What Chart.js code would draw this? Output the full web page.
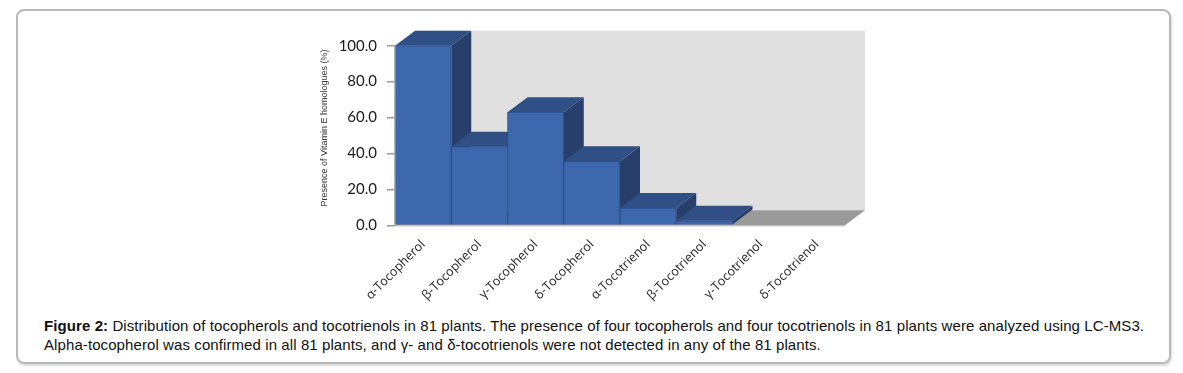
<!DOCTYPE html>
<html>
<head>
<meta charset="utf-8">
<script src="https://cdn.jsdelivr.net/npm/chart.js@4/dist/chart.umd.min.js"></script>
<style>
  html, body { margin: 0; padding: 0; background: #fff; }
  body { width: 1183px; height: 373px; position: relative; overflow: hidden; }
  #frame {
    position: absolute; left: 16px; top: 9px; width: 1151px; height: 351px;
    border: 2px solid #b8b8b8; border-radius: 8px;
    box-shadow: 1px 2px 2px rgba(0, 0, 0, 0.15);
  }
  #wrap { position: absolute; left: 0; top: 0; width: 1183px; height: 310px; }
  #caption {
    position: absolute; left: 44px; top: 316px; white-space: nowrap; letter-spacing: 0.09px;
    font-family: "Liberation Sans", Arial, sans-serif; font-size: 15px; line-height: 19px; color: #111;
  }
</style>
</head>
<body>
<div id="frame"></div>
<div id="wrap"><canvas id="chart-vitE" width="1183" height="310"></canvas></div>
<div id="caption"><b>Figure 2:</b> Distribution of tocopherols and tocotrienols in 81 plants. The presence of four tocopherols and four tocotrienols in 81 plants were analyzed using LC-MS3.<br>Alpha-tocopherol was confirmed in all 81 plants, and γ- and δ-tocotrienols were not detected in any of the 81 plants.</div>
<script>
// homologue names and presence (%)
const homologues = ['α-Tocopherol', 'β-Tocopherol', 'γ-Tocopherol', 'δ-Tocopherol',
                    'α-Tocotrienol', 'β-Tocotrienol', 'γ-Tocotrienol', 'δ-Tocotrienol'];
const presence = [100.0, 43.8, 63.0, 35.6, 9.6, 2.5, 0, 0];
const yTicks = [0, 20, 40, 60, 80, 100];

const DEPTH_X = 20;   // 3d offset of back plane
const DEPTH_Y = 15;

const FRONT = '#3d68ad';
const TOP = '#2f4f85';
const SIDE = '#293f6b';

function poly(ctx, pts, fill) {
    ctx.beginPath();
    ctx.moveTo(pts[0][0], pts[0][1]);
    for (let i = 1; i < pts.length; i++) ctx.lineTo(pts[i][0], pts[i][1]);
    ctx.closePath();
    ctx.fillStyle = fill;
    ctx.fill();
}

// wall, floor and the top / side faces of each bar
const fake3d = {
    id: 'fake3d',
    beforeDatasetsDraw(chart) {
        const ctx = chart.ctx;
        const area = chart.chartArea;
        const y = chart.scales.y;
        const y0 = y.getPixelForValue(0);
        ctx.save();
        // back wall
        poly(ctx, [[area.left + DEPTH_X, area.top], [area.right + DEPTH_X, area.top],
                   [area.right + DEPTH_X, y0 - DEPTH_Y], [area.left + DEPTH_X, y0 - DEPTH_Y]], '#e0e0e0');
        // floor
        poly(ctx, [[area.left, y0], [area.right, y0], [area.right + DEPTH_X, y0 - DEPTH_Y],
                   [area.left + DEPTH_X, y0 - DEPTH_Y]], '#9a9a9a');
        ctx.strokeStyle = '#b0b0b0';
        ctx.lineWidth = 1;
        ctx.beginPath();
        ctx.moveTo(area.left, y0 + 0.5);
        ctx.lineTo(area.right, y0 + 0.5);
        ctx.stroke();

        const meta = chart.getDatasetMeta(0);
        meta.data.forEach((bar, i) => {
            if (!presence[i]) return;
            const p = bar.getProps(['x', 'y', 'base', 'width'], true);
            const l = p.x - p.width / 2, r = p.x + p.width / 2;
            poly(ctx, [[r, p.y], [r + DEPTH_X, p.y - DEPTH_Y], [r + DEPTH_X, p.base - DEPTH_Y], [r, p.base]], SIDE);
            poly(ctx, [[l, p.y], [l + DEPTH_X, p.y - DEPTH_Y], [r + DEPTH_X, p.y - DEPTH_Y], [r, p.y]], TOP);
        });
        ctx.restore();
    },
    afterDraw(chart) {
        // value axis line, only from 0 to 100
        const ctx = chart.ctx;
        const y = chart.scales.y;
        ctx.save();
        ctx.strokeStyle = '#9a9a9a';
        ctx.lineWidth = 1.5;
        ctx.beginPath();
        ctx.moveTo(chart.chartArea.left, y.getPixelForValue(100));
        ctx.lineTo(chart.chartArea.left, y.getPixelForValue(0));
        ctx.stroke();
        ctx.restore();
    },
};

new Chart(document.getElementById('chart-vitE'), {
    type: 'bar',
    data: {
        labels: homologues,
        datasets: [{
            data: presence,
            backgroundColor: FRONT,
            borderColor: '#2c4f87',
            borderWidth: 1,
            barPercentage: 1,
            categoryPercentage: 1,
        }],
    },
    options: {
        responsive: false,
        animation: false,
        devicePixelRatio: 1,
        layout: { padding: { left: 315, right: 338, top: 30.7, bottom: 4.7 } },
        plugins: { legend: { display: false }, tooltip: { enabled: false } },
        scales: {
            x: {
                afterFit: (s) => { s.height = 80; },
                grid: { display: false },
                border: { display: false },
                ticks: {
                    autoSkip: false,
                    minRotation: 45,
                    maxRotation: 45,
                    padding: 4,
                    color: '#222',
                    font: { family: 'Open Sans', size: 12.5 },
                },
            },
            y: {
                min: 0,
                max: 108.35,
                afterFit: (s) => { s.width = 80; },
                afterBuildTicks: (s) => { s.ticks = yTicks.map(v => ({ value: v })); },
                border: { display: false },
                grid: { drawOnChartArea: false, tickLength: 8, color: '#9a9a9a', lineWidth: 1.5 },
                ticks: {
                    padding: 10,
                    color: '#1a1a1a',
                    font: { family: 'Lato', size: 15 },
                    callback: (v) => Number(v).toFixed(1),
                },
                title: {
                    display: true,
                    text: 'Presence of Vitamin E homologues (%)',
                    color: '#333',
                    font: { family: 'Liberation Sans', size: 9 },
                },
            },
        },
    },
    plugins: [fake3d],
});
</script>
</body>
</html>
